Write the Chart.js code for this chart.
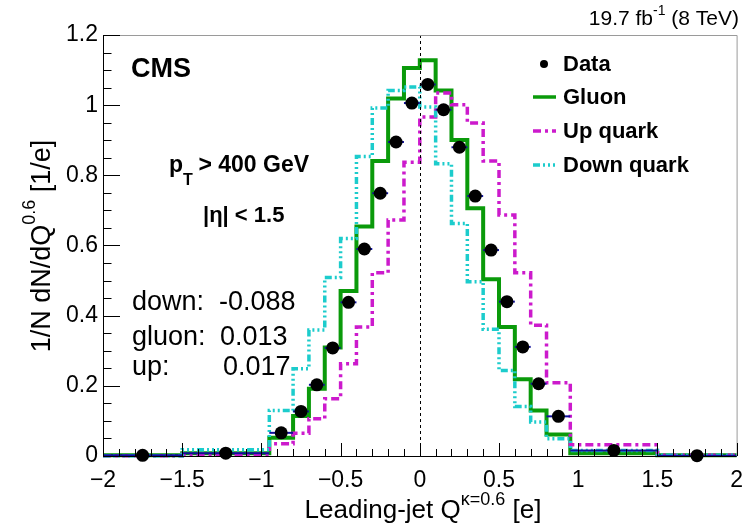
<!DOCTYPE html>
<html>
<head>
<meta charset="utf-8">
<script src="https://cdn.jsdelivr.net/npm/chart.js@4"></script>
<style>
  html, body { margin: 0; padding: 0; background: #fff; }
  #wrap { width: 754px; height: 526px; }
</style>
</head>
<body>
<div id="wrap"><canvas id="chart" width="754" height="526"></canvas></div>
<script>
// bin edges of the jet charge histogram (variable width at the tails)
const binEdges = [-2, -1.5, -0.95, -0.8, -0.7, -0.6, -0.5, -0.4, -0.3, -0.2, -0.1,
  0, 0.1, 0.2, 0.3, 0.4, 0.5, 0.6, 0.7, 0.8, 0.95, 1.5, 2];

// normalised content per bin
const dataVals  = [0.002, 0.008, 0.066, 0.127, 0.203, 0.308, 0.438, 0.590, 0.749, 0.895, 1.006,
  1.059, 0.987, 0.880, 0.741, 0.587, 0.440, 0.311, 0.206, 0.113, 0.016, 0.001];
const gluonVals = [0.002, 0.008, 0.052, 0.114, 0.192, 0.309, 0.470, 0.654, 0.841, 1.019, 1.106,
  1.128, 1.042, 0.901, 0.706, 0.504, 0.368, 0.219, 0.130, 0.061, 0.008, 0.002];
const upVals    = [0.001, 0.005, 0.035, 0.065, 0.106, 0.163, 0.263, 0.368, 0.522, 0.673, 0.837,
  0.966, 1.035, 1.001, 0.949, 0.841, 0.687, 0.522, 0.373, 0.209, 0.032, 0.002];
const downVals  = [0.001, 0.018, 0.130, 0.249, 0.359, 0.509, 0.620, 0.854, 0.992, 1.042, 1.052,
  0.995, 0.833, 0.663, 0.497, 0.361, 0.244, 0.141, 0.097, 0.049, 0.016, 0.002];

const xTicks = [-2, -1.5, -1, -0.5, 0, 0.5, 1, 1.5, 2];
const yTicks = [0, 0.2, 0.4, 0.6, 0.8, 1, 1.2];
const xMinorStep = 0.1;
const yMinorStep = 0.05;

const seriesLabels = ['Data', 'Gluon', 'Up quark', 'Down quark'];
const meanNames = ['down:', 'gluon:', 'up:'];
const meanValues = ['-0.088', '0.013', '0.017'];

const FONT = '"Liberation Sans", Arial, Helvetica, sans-serif';
const GREEN = '#0a9a0a';
const MAGENTA = '#cc1acc';
const CYAN = '#1ccccc';
const UP_DASH = [8, 4, 3, 4];
const DOWN_DASH = [7, 3, 2, 3, 2, 3, 2, 3];

function histPoints(vals) {
  const pts = vals.map((v, i) => ({ x: binEdges[i], y: v }));
  pts.push({ x: binEdges[binEdges.length - 1], y: vals[vals.length - 1] });
  return pts;
}

const dataPoints = dataVals.map((v, i) => ({ x: (binEdges[i] + binEdges[i + 1]) / 2, y: v }));

function fmtNum(v) {
  return v < 0 ? '\u2212' + Math.abs(v) : String(v);
}

// x error bars of the data (bin widths), drawn just before the markers
const errorBars = {
  id: 'errorBars',
  beforeDatasetDraw(chart, args) {
    if (args.index !== 0) return;
    const { ctx, scales: { x, y } } = chart;
    ctx.save();
    ctx.strokeStyle = '#10109a';
    ctx.lineWidth = 2;
    dataVals.forEach((v, i) => {
      const py = y.getPixelForValue(v);
      ctx.beginPath();
      ctx.moveTo(x.getPixelForValue(binEdges[i]), py);
      ctx.lineTo(x.getPixelForValue(binEdges[i + 1]), py);
      ctx.stroke();
    });
    ctx.restore();
  }
};

// ROOT-like frame: inward ticks, axis lines, dashed zero line
const frame = {
  id: 'frame',
  afterDatasetsDraw(chart) {
    const { ctx, chartArea: a, scales: { x, y } } = chart;
    ctx.save();
    // zero line
    ctx.strokeStyle = '#000';
    ctx.lineWidth = 1;
    ctx.setLineDash([3, 3]);
    const x0 = Math.round(x.getPixelForValue(0)) + 0.5;
    ctx.beginPath();
    ctx.moveTo(x0, a.top);
    ctx.lineTo(x0, a.bottom);
    ctx.stroke();
    ctx.setLineDash([]);

    // top / right edges
    ctx.strokeStyle = '#9a9a9a';
    ctx.beginPath();
    ctx.moveTo(a.left, a.top + 0.5);
    ctx.lineTo(a.right + 0.5, a.top + 0.5);
    ctx.lineTo(a.right + 0.5, a.bottom);
    ctx.stroke();

    // axes
    ctx.strokeStyle = '#000';
    ctx.beginPath();
    ctx.moveTo(a.left + 0.5, a.top);
    ctx.lineTo(a.left + 0.5, a.bottom + 0.5);
    ctx.lineTo(a.right, a.bottom + 0.5);
    ctx.stroke();

    // y ticks
    ctx.beginPath();
    for (let k = 0; k <= Math.round(1.2 / yMinorStep); k++) {
      const v = k * yMinorStep;
      const py = Math.round(y.getPixelForValue(v)) + 0.5;
      const major = k % 4 === 0;
      ctx.moveTo(a.left, py);
      ctx.lineTo(a.left + (major ? 17 : 8.5), py);
    }
    // x ticks
    for (let k = 0; k <= Math.round(4 / xMinorStep); k++) {
      const v = -2 + k * xMinorStep;
      const px = Math.round(x.getPixelForValue(v)) + 0.5;
      const major = k % 5 === 0;
      ctx.moveTo(px, a.bottom);
      ctx.lineTo(px, a.bottom - (major ? 13 : 7));
    }
    ctx.stroke();
    ctx.restore();
  }
};

function txt(ctx, s, x, y, size, bold, align) {
  ctx.font = (bold ? 'bold ' : '') + size + 'px ' + FONT;
  ctx.textAlign = align || 'left';
  ctx.fillText(s, x, y);
  return ctx.measureText(s).width;
}

// annotations, legend and axis titles
const labels = {
  id: 'labels',
  afterDraw(chart) {
    const { ctx } = chart;
    ctx.save();
    ctx.fillStyle = '#000';
    ctx.textBaseline = 'alphabetic';

    // luminosity
    ctx.font = '21px ' + FONT;
    const partA = '19.7 fb', partC = ' (8 TeV)';
    const wA = ctx.measureText(partA).width;
    const wC = ctx.measureText(partC).width;
    ctx.font = '14px ' + FONT;
    const wB = ctx.measureText('-1').width;
    let lx = 739 - wA - wB - wC;
    lx += txt(ctx, partA, lx, 25, 21, false);
    lx += txt(ctx, '-1', lx, 15, 14, false);
    txt(ctx, partC, lx, 25, 21, false);

    // CMS
    txt(ctx, 'CMS', 131, 77, 27, true);

    // selection
    let px = 169;
    px += txt(ctx, 'p', px, 172, 23, true);
    txt(ctx, 'T', px, 185, 16, true);
    txt(ctx, ' > 400 GeV', px + 9, 172, 23, true);
    txt(ctx, '|\u03b7| < 1.5', 203, 222, 22, true);

    // mean values
    const meanY = [310, 345, 375];
    const meanX = [219, 220, 223];
    meanNames.forEach((m, i) => {
      txt(ctx, m, 132, meanY[i], 27, false);
      txt(ctx, meanValues[i], meanX[i], meanY[i], 27, false);
    });

    // legend
    const legY = [71, 104, 138, 172];
    seriesLabels.forEach((s, i) => txt(ctx, s, 563, legY[i], 22, true));
    ctx.beginPath();
    ctx.arc(544, 64, 4, 0, Math.PI * 2);
    ctx.fill();
    const legLines = [[GREEN, []], [MAGENTA, UP_DASH], [CYAN, DOWN_DASH]];
    legLines.forEach((l, i) => {
      const ly = legY[i + 1] - 7;
      ctx.strokeStyle = l[0];
      ctx.lineWidth = 3.5;
      ctx.setLineDash(l[1]);
      ctx.beginPath();
      ctx.moveTo(533, ly);
      ctx.lineTo(556, ly);
      ctx.stroke();
    });
    ctx.setLineDash([]);

    // x title
    ctx.font = '26px ' + FONT;
    const xa = 'Leading-jet Q', xc = ' [e]';
    const wxa = ctx.measureText(xa).width, wxc = ctx.measureText(xc).width;
    ctx.font = '18px ' + FONT;
    const wxb = ctx.measureText('\u03ba=0.6').width;
    let tx = 423 - (wxa + wxb + wxc) / 2;
    tx += txt(ctx, xa, tx, 518, 26, false);
    tx += txt(ctx, '\u03ba=0.6', tx, 505, 18, false);
    txt(ctx, xc, tx, 518, 26, false);

    // y title (rotated)
    ctx.save();
    ctx.translate(50, 246);
    ctx.rotate(-Math.PI / 2);
    ctx.font = '27px ' + FONT;
    const ya = '1/N dN/dQ', yc = ' [1/e]';
    const wya = ctx.measureText(ya).width, wyc = ctx.measureText(yc).width;
    ctx.font = '18px ' + FONT;
    const wyb = ctx.measureText('0.6').width;
    let ty = -(wya + wyb + wyc) / 2;
    ty += txt(ctx, ya, ty, 0, 27, false);
    ty += txt(ctx, '0.6', ty, -15, 18, false);
    txt(ctx, yc, ty, 0, 27, false);
    ctx.restore();

    ctx.restore();
  }
};

const histStyle = (label, vals, color, dash) => ({
  label: label,
  data: histPoints(vals),
  stepped: 'before',
  borderColor: color,
  borderWidth: color === GREEN ? 4 : 3.5,
  borderDash: dash,
  pointRadius: 0,
  fill: false,
  clip: false
});

const chart = new Chart(document.getElementById('chart'), {
  type: 'line',
  data: {
    datasets: [
      {
        label: seriesLabels[0],
        data: dataPoints,
        showLine: false,
        pointRadius: 6.5,
        pointBackgroundColor: '#000',
        pointBorderWidth: 0,
        clip: false
      },
      histStyle(seriesLabels[3], downVals, CYAN, DOWN_DASH),
      histStyle(seriesLabels[2], upVals, MAGENTA, UP_DASH),
      histStyle(seriesLabels[1], gluonVals, GREEN, [])
    ]
  },
  options: {
    responsive: false,
    animation: false,
    layout: { padding: { top: 35, right: 12, left: 0, bottom: 0 } },
    plugins: {
      legend: { display: false },
      tooltip: { enabled: false }
    },
    scales: {
      x: {
        type: 'linear',
        min: -2,
        max: 2,
        afterBuildTicks: s => { s.ticks = xTicks.map(v => ({ value: v })); },
        afterFit: s => { s.height = 70; },
        grid: { display: false, drawTicks: false },
        border: { display: false },
        ticks: {
          padding: 11,
          maxRotation: 0,
          autoSkip: false,
          color: '#000',
          font: { family: FONT, size: 23 },
          callback: v => fmtNum(v)
        }
      },
      y: {
        min: 0,
        max: 1.2,
        afterBuildTicks: s => { s.ticks = yTicks.map(v => ({ value: v })); },
        afterFit: s => { s.width = 103; },
        grid: { display: false, drawTicks: false },
        border: { display: false },
        ticks: {
          padding: 5,
          color: '#000',
          font: { family: FONT, size: 23 },
          callback: v => String(v)
        }
      }
    }
  },
  plugins: [errorBars, frame, labels]
});
</script>
</body>
</html>
